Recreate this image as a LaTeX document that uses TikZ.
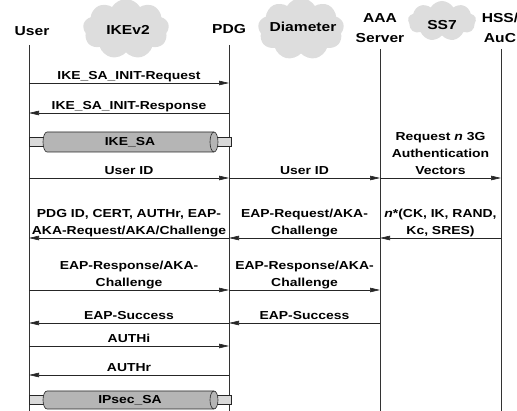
\documentclass[tikz,border=0pt]{standalone}
\usepackage{fontspec}
\setmainfont{Liberation Sans}[FakeStretch=1.2]
\usetikzlibrary{shapes.symbols,arrows.meta}

\tikzset{
  head/.style={font=\bfseries\fontsize{13}{20}\selectfont, align=center, inner sep=0pt},
  lbl/.style={font=\bfseries\fontsize{11.6}{17}\selectfont, align=center, above, inner sep=1pt, text depth=2.5pt},
  tubelbl/.style={font=\bfseries\fontsize{11.6}{17}\selectfont, inner sep=0pt},
  msg/.style={draw=black!85, line width=0.6pt, -{Triangle[length=10pt,width=4.5pt]}},
  life/.style={draw=black!80, line width=0.6pt},
  netcloud/.style={cloud, cloud puffs=9, cloud puff arc=120, cloud ignores aspect, fill=gray!27, inner sep=0pt},
  tubebody/.style={draw=black!85, line width=0.6pt, fill=gray!58},
  tubecap/.style={draw=black!85, line width=0.6pt, fill=gray!30},
}

\begin{document}
\begin{tikzpicture}[x=1pt,y=1pt]
  \useasboundingbox (0,0) rectangle (517,-411);
  % network clouds
  \node[netcloud, minimum width=86pt, minimum height=60pt] (ikecloud) at (126,-29) {};
  \node[netcloud, minimum width=86pt, minimum height=62pt] (diacloud) at (301,-29) {};
  \node[netcloud, minimum width=68pt, minimum height=40pt] (sscloud) at (442,-21) {};
  \node[head] (ike) at (128,-30) {IKEv2};
  \node[head] (dia) at (303,-27) {Diameter};
  \node[head] (ss) at (442,-25) {SS7};
  % entities
  \node[head] (userlbl) at (32,-31) {User};
  \node[head] (pdglbl) at (229,-29) {PDG};
  \node[head] (aaalbl) at (380,-28) {AAA\\Server};
  \node[head] (hsslbl) at (500,-28) {HSS/\\AuC};
  \coordinate (user) at (29,-45);
  \coordinate (pdg) at (229,-45);
  \coordinate (aaa) at (380,-49);
  \coordinate (hss) at (501,-49);
  \coordinate (bot) at (0,-411);
  \draw[life] (user) -- (user |- bot);
  \draw[life] (pdg) -- (pdg |- bot);
  \draw[life] (aaa) -- (aaa |- bot);
  \draw[life] (hss) -- (hss |- bot);
  % message rows
  \coordinate (r1) at (0,-83);
  \coordinate (r2) at (0,-113);
  \coordinate (r4) at (0,-178);
  \coordinate (r5) at (0,-238);
  \coordinate (r6) at (0,-290);
  \coordinate (r7) at (0,-323);
  \coordinate (r8) at (0,-346);
  \coordinate (r9) at (0,-375);

  \draw[msg] (user |- r1) -- (pdg |- r1) node[lbl, midway] {IKE\_SA\_INIT-Request};
  \draw[msg] (pdg |- r2) -- (user |- r2) node[lbl, midway] {IKE\_SA\_INIT-Response};

  % IKE_SA tube
  \draw[tubecap] (29,-146.5) rectangle (45,-137.5);
  \draw[tubecap] (215,-146.5) rectangle (231,-137.5);
  \draw[tubebody] (47,-132) -- (214,-132) arc[start angle=90, end angle=-90, x radius=4pt, y radius=10pt]
    -- (47,-152) arc[start angle=270, end angle=90, x radius=4pt, y radius=10pt] -- cycle;
  \draw[tubebody, fill=none] (214,-132) arc[start angle=90, end angle=270, x radius=4pt, y radius=10pt];
  \node[tubelbl] (ikesa) at (130,-142) {IKE\_SA};

  \draw[msg] (user |- r4) -- (pdg |- r4) node[lbl, midway] {User ID};
  \draw[msg] (pdg |- r4) -- (aaa |- r4) node[lbl, midway] {User ID};
  \draw[msg] (aaa |- r4) -- (hss |- r4) node[lbl, midway] {Request \textit{n} 3G\\Authentication\\Vectors};

  \draw[msg] (hss |- r5) -- (aaa |- r5) node[lbl, midway] {\textit{n}*(CK, IK, RAND,\\Kc, SRES)};
  \draw[msg] (aaa |- r5) -- (pdg |- r5) node[lbl, midway] {EAP-Request/AKA-\\Challenge};
  \draw[msg] (pdg |- r5) -- (user |- r5) node[lbl, midway] {PDG ID, CERT, AUTHr, EAP-\\AKA-Request/AKA/Challenge};

  \draw[msg] (user |- r6) -- (pdg |- r6) node[lbl, midway] {EAP-Response/AKA-\\Challenge};
  \draw[msg] (pdg |- r6) -- (aaa |- r6) node[lbl, midway] {EAP-Response/AKA-\\Challenge};

  \draw[msg] (aaa |- r7) -- (pdg |- r7) node[lbl, midway] {EAP-Success};
  \draw[msg] (pdg |- r7) -- (user |- r7) node[lbl, midway] {EAP-Success};

  \draw[msg] (user |- r8) -- (pdg |- r8) node[lbl, midway] {AUTHi};
  \draw[msg] (pdg |- r9) -- (user |- r9) node[lbl, midway] {AUTHr};

  % IPsec_SA tube
  \draw[tubecap] (29,-404.5) rectangle (45,-395.5);
  \draw[tubecap] (215,-404.5) rectangle (231,-395.5);
  \draw[tubebody] (47,-391) -- (214,-391) arc[start angle=90, end angle=-90, x radius=4pt, y radius=9pt]
    -- (47,-409) arc[start angle=270, end angle=90, x radius=4pt, y radius=9pt] -- cycle;
  \draw[tubebody, fill=none] (214,-391) arc[start angle=90, end angle=270, x radius=4pt, y radius=9pt];
  \node[tubelbl] (ipsecsa) at (130,-400) {IPsec\_SA};
\end{tikzpicture}
\end{document}
